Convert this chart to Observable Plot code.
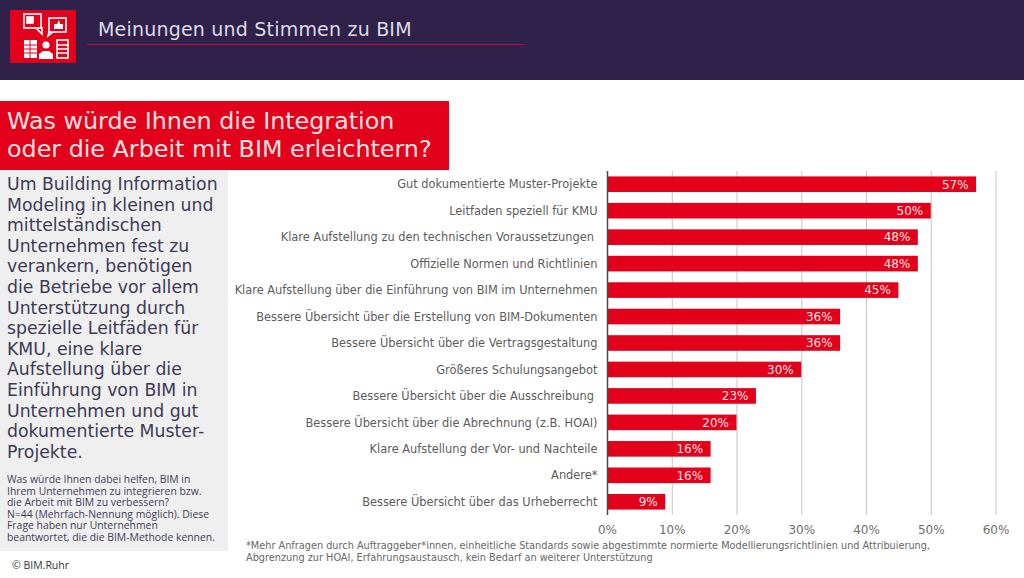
<!DOCTYPE html>
<html lang="de"><head><meta charset="utf-8">
<script src="https://cdn.jsdelivr.net/npm/d3@7"></script>
<script src="https://cdn.jsdelivr.net/npm/@observablehq/plot@0.6"></script>
<style>
html,body{margin:0;padding:0;background:#fff;overflow:hidden}
body{width:1024px;height:578px;position:relative;font-family:"DejaVu Sans",sans-serif}
.a{position:absolute}
#band{left:0;top:0;width:1024px;height:79.5px;background:#2f2149}
#logo{left:10px;top:10px;width:66px;height:53px;background:#e2001a}
#head{left:98px;top:18px;font-size:19px;color:#dcdbe6;white-space:nowrap;letter-spacing:.2px}
#rule{left:87px;top:44px;width:437px;height:1px;background:#b01238}
#title{left:0;top:101px;width:449px;height:69px;background:#e2001a;color:#f8e3e3;font-size:23.8px;line-height:28.5px;padding:0;white-space:nowrap}
#title div{position:absolute;left:7px;white-space:nowrap}
#panel{left:0;top:171px;width:228px;height:380px;background:#efefef}
#lead{left:7px;top:174px;font-size:17.3px;line-height:20.6px;color:#3d3a55;white-space:nowrap}
#small{left:7px;top:474px;font-family:"Open Sans",sans-serif;font-size:10.4px;line-height:11.5px;color:#3f3c58;white-space:nowrap}
#copy{left:12px;top:558px;font-family:"Open Sans",sans-serif;font-size:10.5px;color:#333;white-space:nowrap}
#note{left:246px;top:540px;font-size:9.74px;line-height:12.2px;color:#666;white-space:nowrap}
#chart{left:230px;top:170px}
</style></head><body>
<div class="a" id="band"></div>
<div class="a" id="logo"><svg width="66" height="53" fill="none" stroke="#fff" stroke-width="1.6">
<rect x="14" y="4" width="17" height="14"/><path d="M26 18l6 6v-7" /><rect x="17" y="7" width="6" height="6" fill="#fff"/>
<rect x="39" y="8" width="17" height="14"/><path d="M39 22l-1 4 5-4"/><path d="M44 19v-5h3l2-4 1 4h3v5z" fill="#fff" stroke="none"/>
<rect x="14" y="30" width="13" height="18" fill="#fff" stroke="none"/><path d="M14 35h13M14 39h13M14 43h13M20 30v18" stroke="#e2001a" stroke-width="1"/>
<circle cx="36" cy="35" r="3.6" fill="#fff" stroke="none"/><path d="M29 49v-5l4-3h6l4 3v5z" fill="#fff" stroke="none"/>
<rect x="47" y="30" width="11" height="18"/><path d="M47 35h11M47 39h11M47 43h11" stroke-width="1.4"/>
</svg></div>
<div class="a" id="head">Meinungen und Stimmen zu BIM</div>
<div class="a" id="rule"></div>
<div class="a" id="title"><div style="top:6px">Was würde Ihnen die Integration</div><div style="top:34px">oder die Arbeit mit BIM erleichtern?</div></div>
<div class="a" id="panel"></div>
<div class="a" id="lead">Um Building Information<br>Modeling in kleinen und<br>mittelständischen<br>Unternehmen fest zu<br>verankern, benötigen<br>die Betriebe vor allem<br>Unterstützung durch<br>spezielle Leitfäden für<br>KMU, eine klare<br>Aufstellung über die<br>Einführung von BIM in<br>Unternehmen und gut<br>dokumentierte Muster-<br>Projekte.</div>
<div class="a" id="small">Was würde Ihnen dabei helfen, BIM in<br>Ihrem Unternehmen zu integrieren bzw.<br>die Arbeit mit BIM zu verbessern?<br>N=44 (Mehrfach-Nennung möglich). Diese<br>Frage haben nur Unternehmen<br>beantwortet, die die BIM-Methode kennen.</div>
<div class="a" id="copy">© BIM.Ruhr</div>
<div class="a" id="note">*Mehr Anfragen durch Auftraggeber*innen, einheitliche Standards sowie abgestimmte normierte Modellierungsrichtlinien und Attribuierung,<br>Abgrenzung zur HOAI, Erfahrungsaustausch, kein Bedarf an weiterer Unterstützung</div>
<div class="a" id="chart"></div>
<script>
const categories = [
  "Gut dokumentierte Muster-Projekte",
  "Leitfaden speziell für KMU",
  "Klare Aufstellung zu den technischen Voraussetzungen ",
  "Offizielle Normen und Richtlinien",
  "Klare Aufstellung über die Einführung von BIM im Unternehmen",
  "Bessere Übersicht über die Erstellung von BIM-Dokumenten",
  "Bessere Übersicht über die Vertragsgestaltung",
  "Größeres Schulungsangebot",
  "Bessere Übersicht über die Ausschreibung ",
  "Bessere Übersicht über die Abrechnung (z.B. HOAI)",
  "Klare Aufstellung der Vor- und Nachteile",
  "Andere*",
  "Bessere Übersicht über das Urheberrecht"
];
const values = [57, 50, 48, 48, 45, 36, 36, 30, 23, 20, 16, 16, 9];
const xTicks = [0, 10, 20, 30, 40, 50, 60];
const rows = categories.map((c, i) => ({c, v: values[i]}));
const plot = Plot.plot({
  width: 794, height: 372,
  marginLeft: 377, marginRight: 28.5, marginTop: 1, marginBottom: 27,
  style: {background: "transparent", fontFamily: "'DejaVu Sans',sans-serif", overflow: "visible"},
  x: {domain: [0, 60]},
  y: {domain: categories, paddingInner: 0.41, paddingOuter: 0.205, round: false},
  marks: [
    Plot.gridX(xTicks, {stroke: "#c4c4c4", strokeOpacity: 1, strokeWidth: 1}),
    Plot.barX(rows, {x: "v", y: "c", fill: "#e2001a"}),
    Plot.ruleX([0], {stroke: "#4a4a4a", strokeWidth: 1.5}),
    Plot.text(rows, {x: "v", y: "c", text: d => d.v + "%", textAnchor: "end", dx: -8, fill: "#f6e4e4", fontSize: 12}),
    Plot.axisY({tickSize: 0, tickPadding: 10, label: null, fontSize: 11.4, color: "#5c5c5c"}),
    Plot.axisX(xTicks, {tickSize: 0, tickPadding: 10, label: null, tickFormat: d => d + "%", fontSize: 12, color: "#6e6e6e"})
  ]
});
document.getElementById("chart").append(plot);
</script>
</body></html>
